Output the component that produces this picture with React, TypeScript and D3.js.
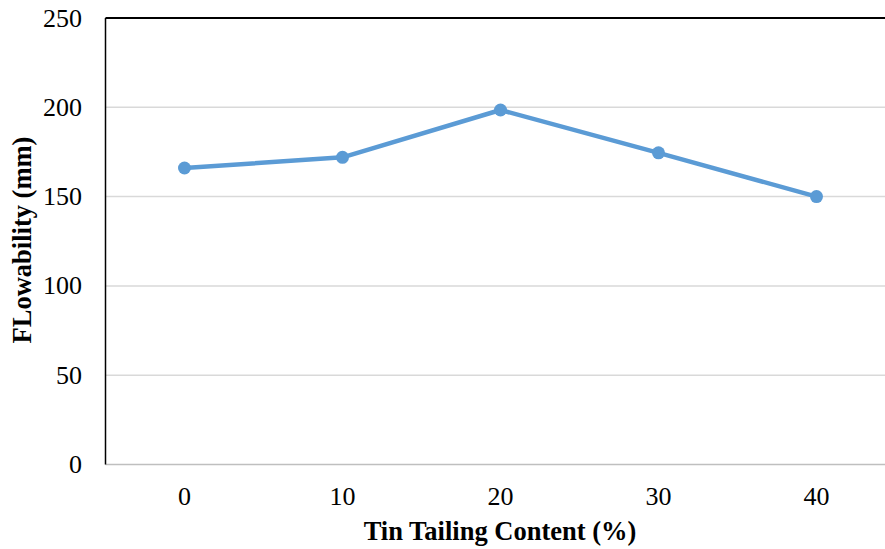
import React, { useEffect, useRef } from "react";
import * as d3 from "d3";

const categories: string[] = ["0", "10", "20", "30", "40"];
const flowability: number[] = [166, 172, 198.5, 174.5, 150];
const yTicks: number[] = [0, 50, 100, 150, 200, 250];

const W = 885;
const H = 549;

export default function App() {
  const ref = useRef<SVGSVGElement | null>(null);

  useEffect(() => {
    const svg = d3.select(ref.current);
    svg.selectAll("*").remove();
    const left = 105.5;
    const top = 18;
    const bottom = 464.5;
    const bandW = 158;
    const right = left + bandW * categories.length;

    const x = d3.scaleBand<string>().domain(categories).range([left, right]);
    const y = d3.scaleLinear().domain([0, 250]).range([bottom, top]);
    const font = "'Liberation Serif', 'Times New Roman', serif";
    const fs = 26;

    svg.append("g")
      .selectAll("line")
      .data(yTicks.filter((t) => t > 0 && t < 250))
      .join("line")
      .attr("x1", left)
      .attr("x2", right)
      .attr("y1", (d) => y(d))
      .attr("y2", (d) => y(d))
      .attr("stroke", "#d9d9d9")
      .attr("stroke-width", 1.5);

    svg.append("line")
      .attr("x1", left).attr("x2", right)
      .attr("y1", bottom).attr("y2", bottom)
      .attr("stroke", "#bfbfbf").attr("stroke-width", 1.5);

    svg.append("line")
      .attr("x1", left).attr("x2", right)
      .attr("y1", top).attr("y2", top)
      .attr("stroke", "#000").attr("stroke-width", 2);

    svg.append("line")
      .attr("x1", left).attr("x2", left)
      .attr("y1", top).attr("y2", bottom)
      .attr("stroke", "#000").attr("stroke-width", 1.5);

    svg.append("g")
      .selectAll("text")
      .data(yTicks)
      .join("text")
      .attr("x", 82)
      .attr("y", (d) => y(d))
      .attr("dy", "0.33em")
      .attr("text-anchor", "end")
      .attr("font-family", font)
      .attr("font-size", fs)
      .attr("fill", "#000")
      .text((d) => String(d));

    svg.append("g")
      .selectAll("text")
      .data(categories)
      .join("text")
      .attr("x", (d) => (x(d) as number) + x.bandwidth() / 2)
      .attr("y", 505)
      .attr("text-anchor", "middle")
      .attr("font-family", font)
      .attr("font-size", fs)
      .attr("fill", "#000")
      .text((d) => d);

    svg.append("text")
      .attr("x", 500)
      .attr("y", 540)
      .attr("text-anchor", "middle")
      .attr("font-family", font)
      .attr("font-size", 26.5)
      .attr("font-weight", "bold")
      .attr("fill", "#000")
      .text("Tin Tailing Content (%)");

    svg.append("text")
      .attr("transform", `translate(31, 240) rotate(-90)`)
      .attr("text-anchor", "middle")
      .attr("font-family", font)
      .attr("font-size", 26.5)
      .attr("font-weight", "bold")
      .attr("fill", "#000")
      .text("FLowability (mm)");

    const pts = categories.map((c, i) => [
      (x(c) as number) + x.bandwidth() / 2,
      y(flowability[i]),
    ] as [number, number]);

    svg.append("path")
      .attr("d", d3.line()(pts))
      .attr("fill", "none")
      .attr("stroke", "#5b9bd5")
      .attr("stroke-width", 4.5)
      .attr("stroke-linejoin", "round")
      .attr("stroke-linecap", "round");

    svg.append("g")
      .selectAll("circle")
      .data(pts)
      .join("circle")
      .attr("cx", (d) => d[0])
      .attr("cy", (d) => d[1])
      .attr("r", 6.5)
      .attr("fill", "#5b9bd5");
  }, []);

  return (
    <svg
      ref={ref}
      width={W}
      height={H}
      style={{ position: "absolute", left: 0, top: 0, background: "#fff" }}
    />
  );
}
